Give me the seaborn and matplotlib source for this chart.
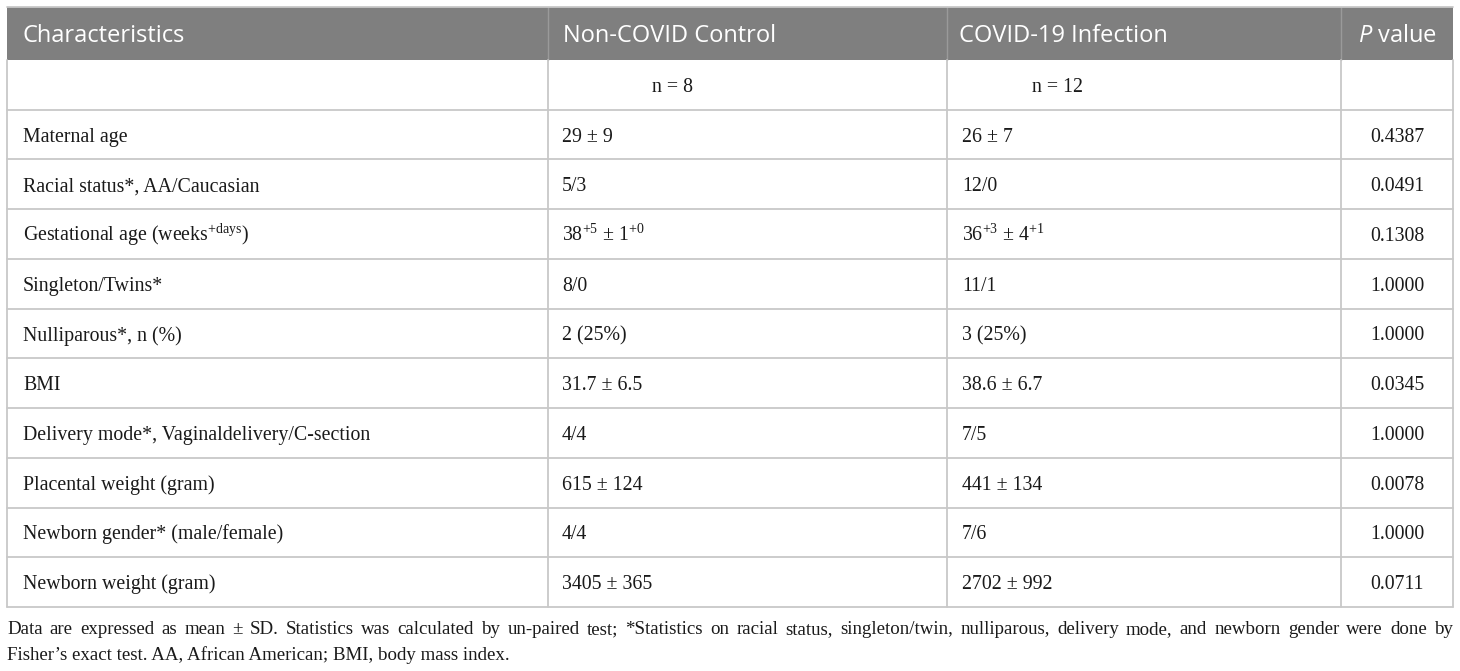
import numpy as np
import matplotlib
matplotlib.use("Agg")
import matplotlib.pyplot as plt
import seaborn as sns

# table content
header = ["Characteristics", "Non-COVID Control", "COVID-19 Infection", "$P$ value"]
n_row = ["", "n = 8", "n = 12", ""]
characteristics = [
    "Maternal age",
    "Racial status*, AA/Caucasian",
    "Gestational age (weeks$^{\\mathrm{+days}}$)",
    "Singleton/Twins*",
    "Nulliparous*, n (%)",
    "BMI",
    "Delivery mode*, Vaginaldelivery/C-section",
    "Placental weight (gram)",
    "Newborn gender* (male/female)",
    "Newborn weight (gram)",
]
control = ["29 ± 9", "5/3", "38$^{\\mathrm{+5}}$ ± 1$^{\\mathrm{+0}}$", "8/0", "2 (25%)",
           "31.7 ± 6.5", "4/4", "615 ± 124", "4/4", "3405 ± 365"]
covid = ["26 ± 7", "12/0", "36$^{\\mathrm{+3}}$ ± 4$^{\\mathrm{+1}}$", "11/1", "3 (25%)",
         "38.6 ± 6.7", "7/5", "441 ± 134", "7/6", "2702 ± 992"]
p_values = ["0.4387", "0.0491", "0.1308", "1.0000", "1.0000",
            "0.0345", "1.0000", "0.0078", "1.0000", "0.0711"]
footnote = [
    "Data are expressed as mean ± SD. Statistics was calculated by un-paired test; *Statistics on racial status, "
    "singleton/twin, nulliparous, delivery mode, and newborn gender were done by",
    "Fisher’s exact test. AA, African American; BMI, body mass index.",
]

sns.set_style("white")
plt.rcParams['mathtext.fontset'] = 'custom'
plt.rcParams['mathtext.rm'] = 'Liberation Serif'
plt.rcParams['mathtext.it'] = 'Open Sans:italic'

W, H = 1460, 671
fig = plt.figure(figsize=(14.6, 6.71), dpi=100)
ax = fig.add_axes([0, 0, 1, 1])
ax.set_xlim(0, W)
ax.set_ylim(H, 0)
ax.axis("off")

col_x = [7, 548, 947, 1341, 1453]
top, head_bot, bottom = 7, 60, 607
n_rows = len(characteristics) + 1
row_y = np.linspace(head_bot, bottom, n_rows + 1)

grid = "#c8c8c8"
# header band
ax.add_patch(plt.Rectangle((col_x[0], top), col_x[-1] - col_x[0], head_bot - top,
                           facecolor="#7f7f7f", edgecolor="none"))
for x in col_x[1:-1]:
    ax.plot([x, x], [top, head_bot], color="#9a9a9a", lw=1)
# body grid
for y in row_y[1:-1]:
    ax.plot([col_x[0], col_x[-1]], [y, y], color=grid, lw=1.3)
ax.plot([col_x[0], col_x[-1]], [bottom, bottom], color=grid, lw=1.3)
ax.plot([col_x[0], col_x[-1]], [top, top], color=grid, lw=1.3)
for x in col_x:
    ax.plot([x, x], [head_bot, bottom], color=grid, lw=1.3)

# header text (baseline aligned)
hy = (top + head_bot) / 2 + 9
hkw = dict(color="white", fontsize=17, family="Open Sans", va="baseline")
ax.text(23, hy, header[0], ha="left", **hkw)
ax.text(col_x[1] + 15, hy, header[1], ha="left", **hkw)
ax.text(col_x[2] + 12, hy, header[2], ha="left", **hkw)
ax.text((col_x[3] + col_x[4]) / 2, hy, header[3], ha="center", **hkw)

bkw = dict(color="#1a1a1a", fontsize=14.3, family="Liberation Serif", va="baseline")
off = 7
cy = (row_y[0] + row_y[1]) / 2 + off
ax.text(672, cy, n_row[1], ha="center", **bkw)
ax.text(1057, cy, n_row[2], ha="center", **bkw)

for i, (c, a, b, p) in enumerate(zip(characteristics, control, covid, p_values)):
    y = (row_y[i + 1] + row_y[i + 2]) / 2 + off
    ax.text(23, y, c, ha="left", **bkw)
    ax.text(col_x[1] + 14, y, a, ha="left", **bkw)
    ax.text(col_x[2] + 15, y, b, ha="left", **bkw)
    ax.text((col_x[3] + col_x[4]) / 2, y, p, ha="center", **bkw)

# footnote: first line justified to the table width
fkw = dict(bkw, fontsize=13.6)
renderer = fig.canvas.get_renderer()
words = footnote[0].split(" ")
arts = [ax.text(0, 634, w, ha="left", **fkw) for w in words]
widths = [a.get_window_extent(renderer).width for a in arts]
gap = (col_x[-1] - 7 - sum(widths)) / (len(words) - 1)
x = 7
for a, w in zip(arts, widths):
    a.set_x(x)
    x += w + gap
ax.text(7, 660, footnote[1], ha="left", **fkw)

fig.savefig("out.png", dpi=100)
